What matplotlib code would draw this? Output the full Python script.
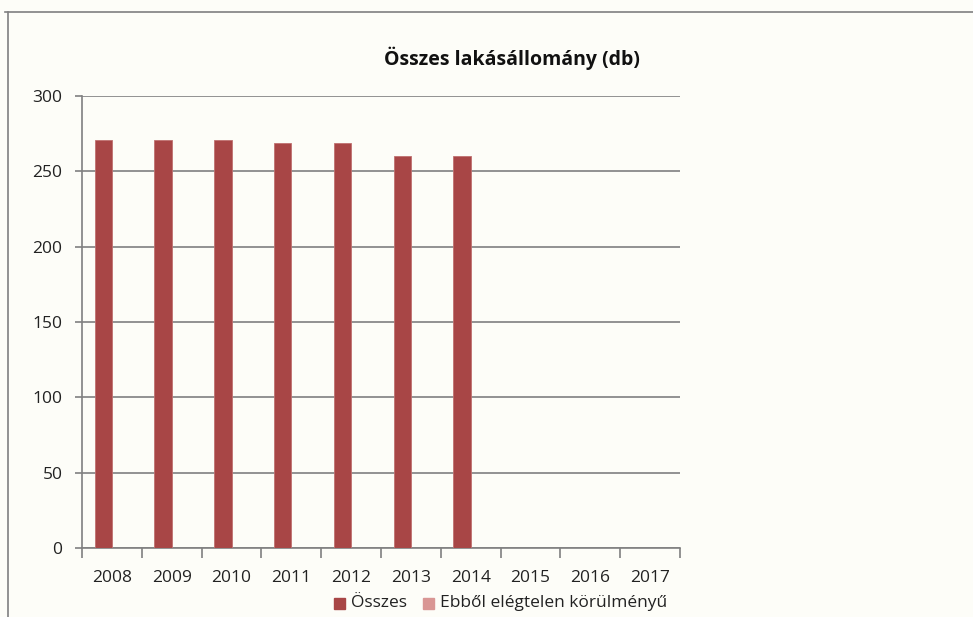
import numpy as np
import matplotlib.pyplot as plt
from matplotlib.patches import Rectangle

# Adatok
years = ['2008', '2009', '2010', '2011', '2012', '2013', '2014', '2015', '2016', '2017']
osszes = [271, 271, 271, 269, 269, 260, 260, np.nan, np.nan, np.nan]
elegtelen = [np.nan] * 10
series_names = ['Összes', 'Ebből elégtelen körülményű']
colors = ['#A84646', '#D99694']

plt.rcParams['font.family'] = ['Open Sans', 'DejaVu Sans']

W, H = 973, 617
fig = plt.figure(figsize=(W / 100, H / 100), dpi=100)
fig.patch.set_facecolor('#FDFDF8')

# axes position in pixels: left 82, right 680, top 96, bottom 548
ax = fig.add_axes([82 / W, 1 - 548 / H, (680 - 82) / W, (548 - 96) / H])
ax.set_facecolor('#FDFDF8')

x = np.arange(len(years))
bw = 0.29
ax.bar(x - bw / 2, osszes, bw, color=colors[0], edgecolor='#C07070', linewidth=0.6, zorder=3)
ax.bar(x + bw / 2, elegtelen, bw, color=colors[1], zorder=3)

ax.set_xlim(-0.5, len(years) - 0.5)
ax.set_ylim(0, 300)
ax.set_yticks(range(0, 301, 50))
ax.yaxis.grid(True, color='#808080', linewidth=1.2)
ax.set_axisbelow(True)

for s in ['top', 'right']:
    ax.spines[s].set_visible(False)
ax.spines['left'].set_color('#808080')
ax.spines['bottom'].set_color('#808080')
ax.spines['left'].set_linewidth(1.2)
ax.spines['bottom'].set_linewidth(1.2)

# category boundary ticks on x axis
ax.set_xticks(np.arange(-0.5, len(years), 1.0), minor=False)
ax.set_xticklabels([])
ax.tick_params(axis='x', direction='out', length=7, color='#808080', width=1.2)
ax.set_xticks(x, minor=True)
ax.set_xticklabels(years, minor=True)
ax.tick_params(axis='x', which='minor', length=0, pad=16, labelsize=12.5, labelcolor='#222222')
ax.tick_params(axis='y', direction='out', length=5, color='#808080', width=1.2,
               labelsize=12.5, labelcolor='#222222', pad=9)

fig.text(512 / W, 1 - 58 / H, 'Összes lakásállomány (db)', ha='center', va='center',
         fontsize=14, fontweight='bold', color='#111111')

# legend at the bottom
leg_y = 1 - 603 / H
fig.patches.append(Rectangle((334 / W, leg_y - 5.5 / H), 11 / W, 11 / H,
                             transform=fig.transFigure, color=colors[0]))
fig.text(351 / W, leg_y, series_names[0], ha='left', va='center', fontsize=12.5, color='#222222')
fig.patches.append(Rectangle((423 / W, leg_y - 5.5 / H), 11 / W, 11 / H,
                             transform=fig.transFigure, color=colors[1]))
fig.text(440 / W, leg_y, series_names[1], ha='left', va='center', fontsize=12.5, color='#222222')

# chart area border (top and left only visible)
fig.lines.append(plt.Line2D([5 / W, 1], [1 - 12 / H, 1 - 12 / H], transform=fig.transFigure,
                            color='#808080', linewidth=1.2))
fig.lines.append(plt.Line2D([8 / W, 8 / W], [0, 1 - 12 / H], transform=fig.transFigure,
                            color='#808080', linewidth=1.2))

fig.savefig('out.png', dpi=100, facecolor=fig.get_facecolor())
